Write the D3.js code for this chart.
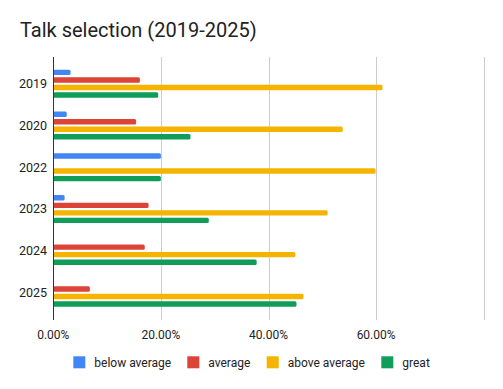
<!DOCTYPE html>
<html>
<head>
<meta charset="utf-8">
<script src="https://cdn.jsdelivr.net/npm/d3@7"></script>
<style>
  body { margin: 0; background: #fff; }
  svg { font-family: Roboto, Arial, sans-serif; }
</style>
</head>
<body>
<div id="chart"></div>
<script>
// data
const years = ['2019', '2020', '2022', '2023', '2024', '2025'];
const seriesNames = ['below average', 'average', 'above average', 'great'];
const belowAverage = [3.2, 2.5, 20.0, 2.1, 0, 0];
const average = [16.1, 15.4, 0, 17.7, 17.0, 6.8];
const aboveAverage = [61.2, 53.8, 59.9, 51.0, 45.0, 46.5];
const great = [19.5, 25.5, 20.0, 28.9, 37.8, 45.2];
const xTicks = [0, 20, 40, 60, 80];
const colors = ['#4285f4', '#db4437', '#f4b400', '#0f9d58'];

const seriesValues = [belowAverage, average, aboveAverage, great];

const width = 503, height = 389;
const plot = { left: 53.3, right: 483.7, top: 57, bottom: 320 };

const svg = d3.select('#chart')
  .append('svg')
  .attr('width', width)
  .attr('height', height);

const x = d3.scaleLinear()
  .domain([0, 80])
  .range([plot.left, plot.right]);

const y = d3.scaleBand()
  .domain(years)
  .range([62.8, 313.6])
  .paddingInner(0.33)
  .paddingOuter(0.165);

const ySub = d3.scaleBand()
  .domain(d3.range(seriesNames.length))
  .range([0, y.bandwidth()])
  .paddingInner(0.28);

// gridlines
svg.append('g')
  .selectAll('line')
  .data(xTicks.filter(d => d > 0))
  .enter()
  .append('line')
  .attr('x1', d => Math.round(x(d)) + 0.5)
  .attr('x2', d => Math.round(x(d)) + 0.5)
  .attr('y1', plot.top)
  .attr('y2', plot.bottom)
  .attr('stroke', '#cccccc')
  .attr('stroke-width', 1);

// tick labels
svg.append('g')
  .selectAll('text')
  .data(xTicks.filter(d => d < 80))
  .enter()
  .append('text')
  .attr('x', d => x(d))
  .attr('y', 338.5)
  .attr('text-anchor', 'middle')
  .attr('font-size', '12px')
  .attr('fill', '#222')
  .text(d => d3.format('.2f')(d) + '%');

// bars
const groups = svg.append('g')
  .selectAll('g')
  .data(years)
  .enter()
  .append('g')
  .attr('transform', d => 'translate(0,' + y(d) + ')');

groups.selectAll('rect')
  .data((d, i) => seriesValues.map((s, k) => ({ k: k, v: s[i] })).filter(e => e.v > 0))
  .enter()
  .append('rect')
  .attr('x', x(0))
  .attr('y', d => ySub(d.k))
  .attr('width', d => x(d.v) - x(0))
  .attr('height', ySub.bandwidth())
  .attr('rx', 1.5)
  .attr('fill', d => colors[d.k]);

// baseline
svg.append('line')
  .attr('x1', Math.round(x(0)) + 0.5)
  .attr('x2', Math.round(x(0)) + 0.5)
  .attr('y1', plot.top)
  .attr('y2', plot.bottom)
  .attr('stroke', '#333')
  .attr('stroke-width', 1);

// year labels
svg.append('g')
  .selectAll('text')
  .data(years)
  .enter()
  .append('text')
  .attr('x', 47)
  .attr('y', d => y(d) + y.bandwidth() / 2)
  .attr('dy', '0.35em')
  .attr('text-anchor', 'end')
  .attr('font-size', '12.5px')
  .attr('fill', '#222')
  .text(d => d);

// title
svg.append('text')
  .attr('x', 20)
  .attr('y', 37)
  .attr('font-size', '20px')
  .attr('fill', '#222')
  .text('Talk selection (2019-2025)');

// legend
const legendX = [73.3, 187.3, 266.7, 381.3];
const legend = svg.append('g')
  .selectAll('g')
  .data(seriesNames)
  .enter()
  .append('g')
  .attr('transform', (d, i) => 'translate(' + legendX[i] + ',356.3)');

legend.append('rect')
  .attr('width', 12)
  .attr('height', 12)
  .attr('fill', (d, i) => colors[i]);

legend.append('text')
  .attr('x', 21)
  .attr('y', 6)
  .attr('dy', '0.35em')
  .attr('font-size', '12px')
  .attr('fill', '#222')
  .text(d => d);
</script>
</body>
</html>
